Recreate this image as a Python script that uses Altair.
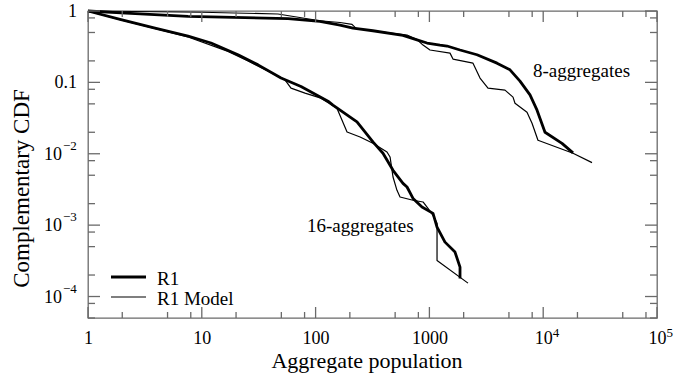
import altair as alt
import pandas as pd

# ---------------- data ----------------
agg8_r1_x = [1, 1.95, 7.57, 57.2, 109, 164, 213, 319, 586, 778, 953, 1239, 1428,
             1858, 2620, 3926, 5108, 6252, 7656, 8827, 10370, 14630, 18280]
agg8_r1_y = [1, 0.94, 0.843, 0.78, 0.717, 0.636, 0.577, 0.529, 0.456, 0.395, 0.356,
             0.333, 0.323, 0.284, 0.244, 0.186, 0.150, 0.104, 0.0669, 0.0408, 0.0200,
             0.0140, 0.0103]

agg8_model_x = [1, 10, 46.7, 109, 164, 209, 228, 319, 636, 778, 879, 1012, 1518, 1611,
                2416, 2785, 3273, 4616, 5430, 5652, 7206, 7977, 8995, 18280, 26850]
agg8_model_y = [1, 0.96, 0.908, 0.73, 0.69, 0.65, 0.565, 0.529, 0.460, 0.398, 0.333,
                0.284, 0.257, 0.212, 0.186, 0.115, 0.083, 0.0779, 0.0621, 0.0511,
                0.0382, 0.0268, 0.01547, 0.01016, 0.00752]

agg16_r1_x = [1, 1.95, 3.88, 7.57, 12.05, 20.8, 31.2, 49.7, 74.4, 128.5, 142, 231, 319,
              391, 479, 586, 636, 718, 861, 1076, 1167, 1371, 1679, 1858, 1858]
agg16_r1_y = [1, 0.755, 0.577, 0.446, 0.356, 0.244, 0.176, 0.115, 0.0877, 0.0545,
              0.048, 0.0279, 0.01465, 0.01016, 0.00586, 0.00385, 0.00342, 0.00237,
              0.00179, 0.00146, 0.00094, 0.000578, 0.000419, 0.000258, 0.000179]

agg16_model_x = [1, 1.95, 7.57, 17.0, 25.5, 53.8, 60.8, 80.7, 111.5, 154, 189, 246,
                 319, 424, 451, 479, 519, 552, 718, 879, 972, 1076, 1167, 1167, 2184]
agg16_model_y = [1, 0.747, 0.432, 0.272, 0.199, 0.1086, 0.083, 0.0707, 0.0601, 0.0435,
                 0.0202, 0.0172, 0.0140, 0.0106, 0.00902, 0.00472, 0.00307, 0.00248,
                 0.00223, 0.00211, 0.00172, 0.00137, 0.00106, 0.00032, 0.000154]

series_names = ["R1", "R1 Model"]

x_major = [1, 10, 100, 1000, 10000, 100000]
x_major_base = ["1", "10", "100", "1000", "10", "10"]
x_major_exp = ["", "", "", "", "4", "5"]
x_minor = [m * d for d in [1, 10, 100, 1000, 10000] for m in (2, 5, 8)]

y_major = [0.0001, 0.001, 0.01, 0.1, 1]
y_major_base = ["10", "10", "10", "0.1", "1"]
y_major_exp = ["\u22124", "\u22123", "\u22122", "", ""]
y_minor = [m * d for d in [0.00001, 0.0001, 0.001, 0.01, 0.1] for m in (5, 8, 2)]
y_minor = [v for v in y_minor if 5e-5 <= v < 1]

annot_labels = ["8-aggregates", "16-aggregates"]
annot_x = [8131, 84]
annot_y = [0.1185, 0.00079]

# ---------------- build table ----------------
rows = []
for grp, sname, xs_, ys_ in [
    ("8", "R1", agg8_r1_x, agg8_r1_y),
    ("8", "R1 Model", agg8_model_x, agg8_model_y),
    ("16", "R1", agg16_r1_x, agg16_r1_y),
    ("16", "R1 Model", agg16_model_x, agg16_model_y),
]:
    for i, (xv, yv) in enumerate(zip(xs_, ys_)):
        rows.append({"x": xv, "y": yv, "series": sname, "key": grp + "-" + sname, "idx": i})
df = pd.DataFrame(rows)

W, H = 569, 307
FONT = "Liberation Serif"
FRAME = "#6a6a6a"
LBL = 18
EXP = 13

xs = alt.Scale(type="log", domain=[1, 100000], nice=False)
ys = alt.Scale(type="log", domain=[5e-5, 1], nice=False)


def label_expr(labels, offset):
    arr = "[" + ",".join("'" + s + "'" for s in labels) + "]"
    return f"{arr}[round(log(datum.value)/LN10)+{offset}]"


x_axis = alt.Axis(values=x_major, labelExpr=label_expr(x_major_base, 0), ticks=False,
                  tickSize=0, domain=False, grid=False, labelFont=FONT, labelFontSize=LBL,
                  labelColor="black", labelPadding=11, labelFlush=False, labelOverlap=False,
                  title="Aggregate population", titleFont=FONT, titleFontSize=22,
                  titleFontWeight="normal", titleColor="black", titleX=278.5, titleY=49,
                  titleBaseline="alphabetic", titleAlign="center")
y_axis = alt.Axis(values=y_major, labels=False, ticks=False,
                  tickSize=0, domain=False, grid=False,
                  title="Complementary CDF", titleFont=FONT, titleFontSize=23,
                  titleFontWeight="normal", titleColor="black", titleX=-60, titleY=177,
                  titleAngle=270, titleBaseline="alphabetic", titleAlign="center")

X = lambda f: alt.X(f, scale=xs, axis=x_axis)
Y = lambda f: alt.Y(f, scale=ys, axis=y_axis)

lines = alt.Chart(df).mark_line(color="black", strokeJoin="round", strokeCap="butt").encode(
    x=X("x:Q"), y=Y("y:Q"), detail="key:N", order=alt.Order("idx:Q"),
    strokeWidth=alt.StrokeWidth("series:N", scale=alt.Scale(domain=series_names, range=[2.8, 1.2]),
                                legend=None),
)

layers = [lines]

# inward tick marks on all four sides
for vals, length in [(x_major, 11), (x_minor, 6)]:
    d = pd.DataFrame({"v": vals})
    layers.append(alt.Chart(d).mark_rule(color=FRAME, strokeWidth=1.3).encode(
        x=X("v:Q"), y=alt.value(H), y2=alt.value(H - length)))
    layers.append(alt.Chart(d).mark_rule(color=FRAME, strokeWidth=1.3).encode(
        x=X("v:Q"), y=alt.value(0), y2=alt.value(length)))
for vals, length in [(y_major, 12), (y_minor, 7)]:
    d = pd.DataFrame({"v": vals})
    layers.append(alt.Chart(d).mark_rule(color=FRAME, strokeWidth=1.3).encode(
        y=Y("v:Q"), x=alt.value(0), x2=alt.value(length)))
    layers.append(alt.Chart(d).mark_rule(color=FRAME, strokeWidth=1.3).encode(
        y=Y("v:Q"), x=alt.value(W), x2=alt.value(W - length)))

# x tick-label exponents
xl = pd.DataFrame({"v": x_major, "exp": x_major_exp})
layers.append(alt.Chart(xl).transform_filter("datum.exp != ''").mark_text(
    align="left", baseline="alphabetic", font=FONT, fontSize=EXP, color="black", dx=9.5).encode(
    x=X("v:Q"), y=alt.value(H + 19), text="exp:N"))

# y tick labels (base + exponent)
yl = pd.DataFrame({"v": y_major, "base": y_major_base, "exp": y_major_exp})
layers.append(alt.Chart(yl).transform_filter("datum.exp == ''").mark_text(
    align="right", baseline="middle", font=FONT, fontSize=LBL, color="black", dy=1).encode(
    y=Y("v:Q"), x=alt.value(-11), text="base:N"))
layers.append(alt.Chart(yl).transform_filter("datum.exp != ''").mark_text(
    align="right", baseline="middle", font=FONT, fontSize=LBL, color="black", dy=1).encode(
    y=Y("v:Q"), x=alt.value(-26), text="base:N"))
layers.append(alt.Chart(yl).transform_filter("datum.exp != ''").mark_text(
    align="left", baseline="middle", font=FONT, fontSize=EXP, color="black", dy=-8).encode(
    y=Y("v:Q"), x=alt.value(-25), text="exp:N"))

# curve annotations
ann = pd.DataFrame({"label": annot_labels, "x": annot_x, "y": annot_y})
layers.append(alt.Chart(ann).mark_text(align="left", baseline="alphabetic", font=FONT,
                                        fontSize=19, color="black").encode(
    x=X("x:Q"), y=Y("y:Q"), text="label:N"))

# legend (drawn by hand, lower left)
for i, (name, sw) in enumerate(zip(series_names, [2.8, 1.2])):
    yy = 266 + 20 * i
    ld = pd.DataFrame({"label": [name]})
    layers.append(alt.Chart(ld).mark_rule(color="black", strokeWidth=sw).encode(
        x=alt.value(23), x2=alt.value(58), y=alt.value(yy)))
    layers.append(alt.Chart(ld).mark_text(align="left", baseline="middle", font=FONT,
                                          fontSize=19, color="black").encode(
        x=alt.value(69), y=alt.value(yy + 2), text="label:N"))

chart = alt.layer(*layers).properties(
    width=W, height=H,
    autosize=alt.AutoSizeParams(type="none"),
    padding={"left": 88, "top": 11, "right": 38, "bottom": 59},
).configure_view(stroke=FRAME, strokeWidth=1.3)

chart.save("out.html", embed_options={"renderer": "svg", "actions": False})
